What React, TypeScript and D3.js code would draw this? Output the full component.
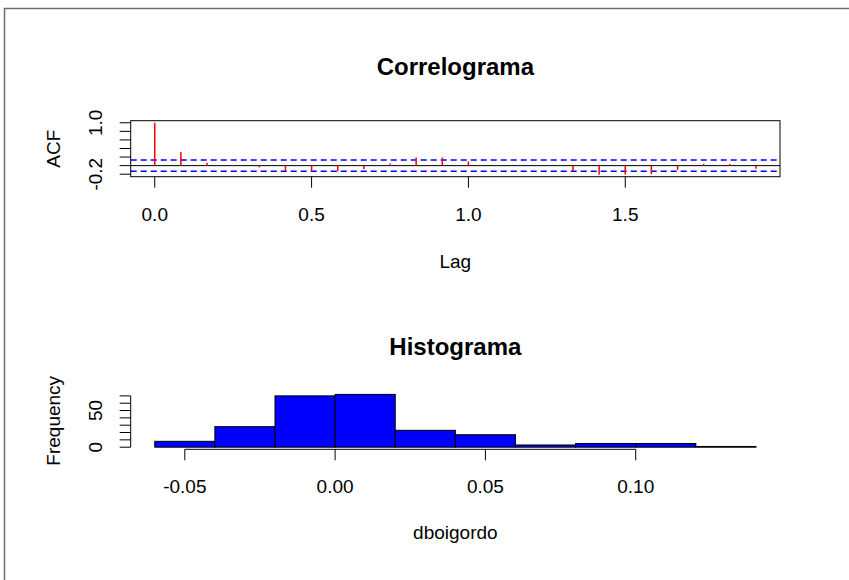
import React from "react";
import * as d3 from "d3";

// ACF values, lags k/12 for k = 0..23
const acfValues = [
  1.0, 0.32, 0.07, 0.01, -0.04, -0.125, -0.13, -0.135, -0.08, 0.05, 0.19, 0.19,
  0.1, -0.005, 0.005, -0.01, -0.13, -0.21, -0.21, -0.2, -0.1, 0.04, 0.04, -0.07,
];
const acfLags = acfValues.map((_, k) => k / 12);
const nObs = 232;

// histogram of dboigordo
const histBreaks = [-0.06, -0.04, -0.02, 0.0, 0.02, 0.04, 0.06, 0.08, 0.1, 0.12, 0.14];
const histCounts = [8, 28, 70, 72, 23, 17, 3, 5, 5, 1];

const acfXTicks = [0, 0.5, 1.0, 1.5];
const acfXLabels = ["0.0", "0.5", "1.0", "1.5"];
const acfYTicks = [-0.2, 0.0, 0.2, 0.4, 0.6, 0.8, 1.0];
const acfYLabels = ["-0.2", "0.0", "0.2", "0.4", "0.6", "0.8", "1.0"];
const histXTicks = [-0.05, 0.0, 0.05, 0.1];
const histXLabels = ["-0.05", "0.00", "0.05", "0.10"];
const histYTicks = [0, 10, 20, 30, 40, 50, 60, 70];
const histYLabels = ["0", "10", "20", "30", "40", "50", "60", "70"];

const W = 849;
const H = 580;
const FONT = "'Liberation Sans', Arial, sans-serif";
const FS = 19;

// R style 4% axis extension
const extend = (lo: number, hi: number): [number, number] => {
  const r = hi - lo;
  return [lo - 0.04 * r, hi + 0.04 * r];
};

// rough Arial widths, to drop overlapping labels like R does
const textWidth = (s: string) =>
  s.split("").reduce((w, c) => w + (c === "." ? 0.278 : c === "-" ? 0.333 : 0.556), 0) * FS;

const keepLabels = (pos: number[], labels: string[]) => {
  const keep: boolean[] = [];
  let last: number | null = null;
  const gap = 0.833 * FS;
  pos.forEach((p, i) => {
    const half = textWidth(labels[i]) / 2;
    const lo = p - half, hi = p + half;
    if (last === null || hi + gap <= last) {
      keep.push(true);
      last = lo;
    } else keep.push(false);
  });
  return keep;
};

const left = 130.7;
const right = 780;

const App = () => {
  const ci = 1.96 / Math.sqrt(nObs);

  // ---- ACF panel
  const acfTop = 120.7, acfBottom = 176.7;
  const xA = d3.scaleLinear().domain(extend(0, d3.max(acfLags)!)).range([left, right]);
  const yMin = Math.min(d3.min(acfValues)!, -ci);
  const yMax = Math.max(d3.max(acfValues)!, ci);
  const yA = d3.scaleLinear().domain(extend(yMin, yMax)).range([acfBottom, acfTop]);
  const keepA = keepLabels(acfYTicks.map((t) => yA(t)), acfYLabels);

  // ---- histogram panel
  const hTop = 392.3, hBottom = 449.3;
  const xH = d3.scaleLinear().domain(extend(histBreaks[0], histBreaks[histBreaks.length - 1])).range([left, right]);
  const yH = d3.scaleLinear().domain(extend(0, d3.max(histCounts)!)).range([hBottom, hTop]);
  const keepH = keepLabels(histYTicks.map((t) => yH(t)), histYLabels);

  const cx = (left + right) / 2;
  const tick = 11;

  return (
    <svg width={W} height={H} style={{ position: "absolute", left: 0, top: 0, display: "block", background: "#fff" }}
      fontFamily={FONT}>
      <path d={`M4.5,${H} V8.5 H${W}`} fill="none" stroke="#6e6e6e" strokeWidth={1.5} />

      {/* Correlograma */}
      <text x={cx} y={75} textAnchor="middle" fontSize={24} fontWeight="bold">Correlograma</text>
      {[ci, -ci].map((c, i) => (
        <line key={i} x1={left} x2={right} y1={yA(c)} y2={yA(c)} stroke="#0000ff" strokeWidth={1.5} strokeDasharray="6,4" />
      ))}
      <line x1={left} x2={right} y1={yA(0)} y2={yA(0)} stroke="#000" strokeWidth={1} />
      {acfValues.map((v, k) => (
        <line key={k} x1={xA(acfLags[k])} x2={xA(acfLags[k])} y1={yA(0)} y2={yA(v)} stroke="#ff0000" strokeWidth={1.5} />
      ))}
      <rect x={left} y={acfTop} width={right - left} height={acfBottom - acfTop} fill="none" stroke="#000" strokeWidth={1} />
      {acfXTicks.map((t, i) => (
        <g key={i}>
          <line x1={xA(t)} x2={xA(t)} y1={acfBottom} y2={acfBottom + tick} stroke="#000" />
          <text x={xA(t)} y={221} textAnchor="middle" fontSize={FS}>{acfXLabels[i]}</text>
        </g>
      ))}
      {acfYTicks.map((t, i) => (
        <g key={i}>
          <line x1={left - tick} x2={left} y1={yA(t)} y2={yA(t)} stroke="#000" />
          {keepA[i] && (
            <text transform={`translate(101.7,${yA(t)}) rotate(-90)`} textAnchor="middle" fontSize={FS}>{acfYLabels[i]}</text>
          )}
        </g>
      ))}
      <text x={cx} y={268} textAnchor="middle" fontSize={FS}>Lag</text>
      <text transform={`translate(60,${(acfTop + acfBottom) / 2}) rotate(-90)`} textAnchor="middle" fontSize={FS}>ACF</text>

      {/* Histograma */}
      <text x={cx} y={355} textAnchor="middle" fontSize={24} fontWeight="bold">Histograma</text>
      {histCounts.map((c, i) => (
        <rect key={i} x={xH(histBreaks[i])} y={yH(c)} width={xH(histBreaks[i + 1]) - xH(histBreaks[i])}
          height={yH(0) - yH(c)} fill="#0000ff" stroke="#000" strokeWidth={1} />
      ))}
      <line x1={xH(histXTicks[0])} x2={xH(histXTicks[histXTicks.length - 1])} y1={hBottom} y2={hBottom} stroke="#000" />
      {histXTicks.map((t, i) => (
        <g key={i}>
          <line x1={xH(t)} x2={xH(t)} y1={hBottom} y2={hBottom + tick} stroke="#000" />
          <text x={xH(t)} y={493} textAnchor="middle" fontSize={FS}>{histXLabels[i]}</text>
        </g>
      ))}
      <line x1={left} x2={left} y1={yH(histYTicks[0])} y2={yH(histYTicks[histYTicks.length - 1])} stroke="#000" />
      {histYTicks.map((t, i) => (
        <g key={i}>
          <line x1={left - tick} x2={left} y1={yH(t)} y2={yH(t)} stroke="#000" />
          {keepH[i] && (
            <text transform={`translate(101.7,${yH(t)}) rotate(-90)`} textAnchor="middle" fontSize={FS}>{histYLabels[i]}</text>
          )}
        </g>
      ))}
      <text x={cx} y={539} textAnchor="middle" fontSize={FS}>dboigordo</text>
      <text transform={`translate(60,${(hTop + hBottom) / 2}) rotate(-90)`} textAnchor="middle" fontSize={FS}>Frequency</text>
    </svg>
  );
};

export default App;
